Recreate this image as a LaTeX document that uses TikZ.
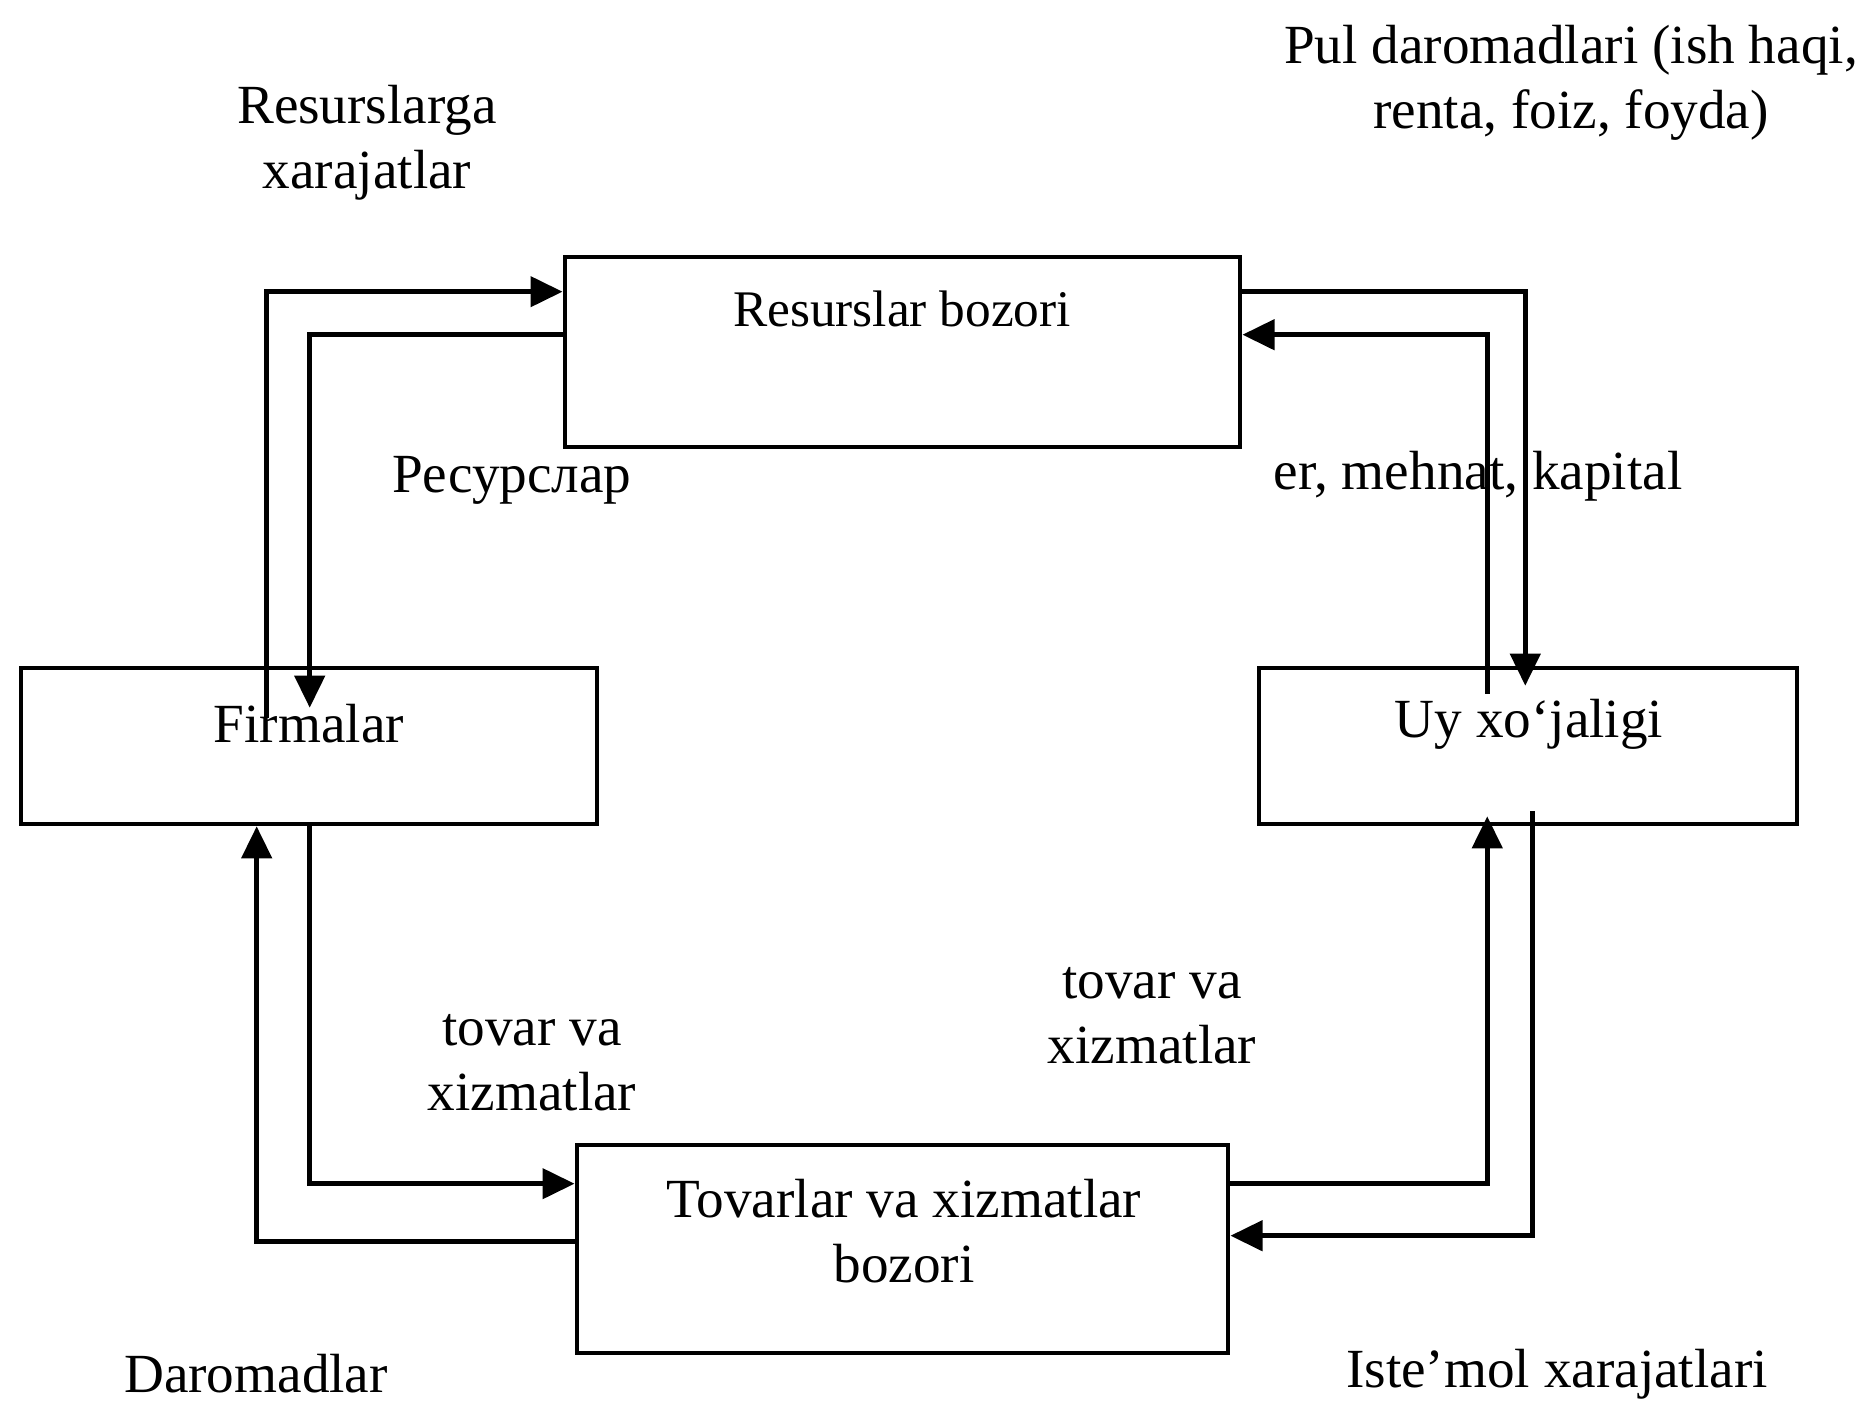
\documentclass[tikz,border=0pt]{standalone}
\usepackage{fontspec}
\setmainfont{Liberation Serif}
\usepackage{tikz}
\usetikzlibrary{arrows.meta}

\newcommand{\lblfont}{\fontsize{15.7}{18.6}\selectfont}

\begin{document}
\begin{tikzpicture}[x=0.01cm,y=-0.01cm,
  box/.style={draw,line width=1.3pt,rectangle,inner sep=0pt},
  flow/.style={line width=1.3pt,-{Triangle[length=0.32cm,width=0.3cm]}},
  txt/.style={font=\lblfont,align=center,inner sep=0pt}]
\useasboundingbox (0,0) rectangle (1866,1403);
\node[box,minimum width=6.75cm,minimum height=1.9cm] (res) at (902.5,352) {};
\node[box,minimum width=5.76cm,minimum height=1.56cm] (firm) at (309,746) {};
\node[box,minimum width=5.38cm,minimum height=1.56cm] (uy) at (1528,746) {};
\node[box,minimum width=6.51cm,minimum height=2.08cm] (tov) at (902.5,1249) {};
\node[txt] (res-t) at (902,309) {\fontsize{14.6}{18.6}\selectfont Resurslar bozori};
\node[txt] (firm-t) at (309,724) {Firmalar};
\node[txt] (uy-t) at (1529,724) {Uy xo‘jaligi};
\node[txt] (tov-t) at (904,1231) {Tovarlar va xizmatlar\\bozori};
\draw[flow] ([xshift=2.48cm,yshift=-0.52cm]firm.north west) |- ([yshift=-0.37cm]res.north west);
\draw[flow] ([yshift=-0.80cm]res.north west) -| ([xshift=2.91cm,yshift=-0.42cm]firm.north west);
\draw[flow] ([yshift=-0.37cm]res.north east) -| ([xshift=-2.74cm,yshift=-0.20cm]uy.north east);
\draw[flow] ([xshift=-3.12cm,yshift=-0.28cm]uy.north east) |- ([yshift=-0.80cm]res.north east);
\draw[flow] ([xshift=2.91cm]firm.south west) |- ([yshift=-0.41cm]tov.north west);
\draw[flow] ([yshift=-0.99cm]tov.north west) -| ([xshift=2.38cm]firm.south west);
\draw[flow] ([yshift=-0.41cm]tov.north east) -| ([xshift=-3.12cm,yshift=0.1cm]uy.south east);
\draw[flow] ([xshift=-2.67cm,yshift=0.15cm]uy.south east) |- ([yshift=-0.93cm]tov.north east);
\node[txt] (resx) at (367,143) {Resurslarga\\xarajatlar};
\node[txt] (pul) at (1571,83) {Pul daromadlari (ish haqi,\\renta, foiz, foyda)};
\node[txt] (res-ru) at (512,480) {Ресурслар};
\node[txt] (emk) at (1478,476) {er, mehnat, kapital};
\node[txt] (tx-l) at (532,1063) {tovar va\\xizmatlar};
\node[txt] (tx-r) at (1152,1016) {tovar va\\xizmatlar};
\node[txt] (dar) at (256,1374) {Daromadlar};
\node[txt] (ist) at (1557,1374) {Iste’mol xarajatlari};
\end{tikzpicture}
\end{document}
